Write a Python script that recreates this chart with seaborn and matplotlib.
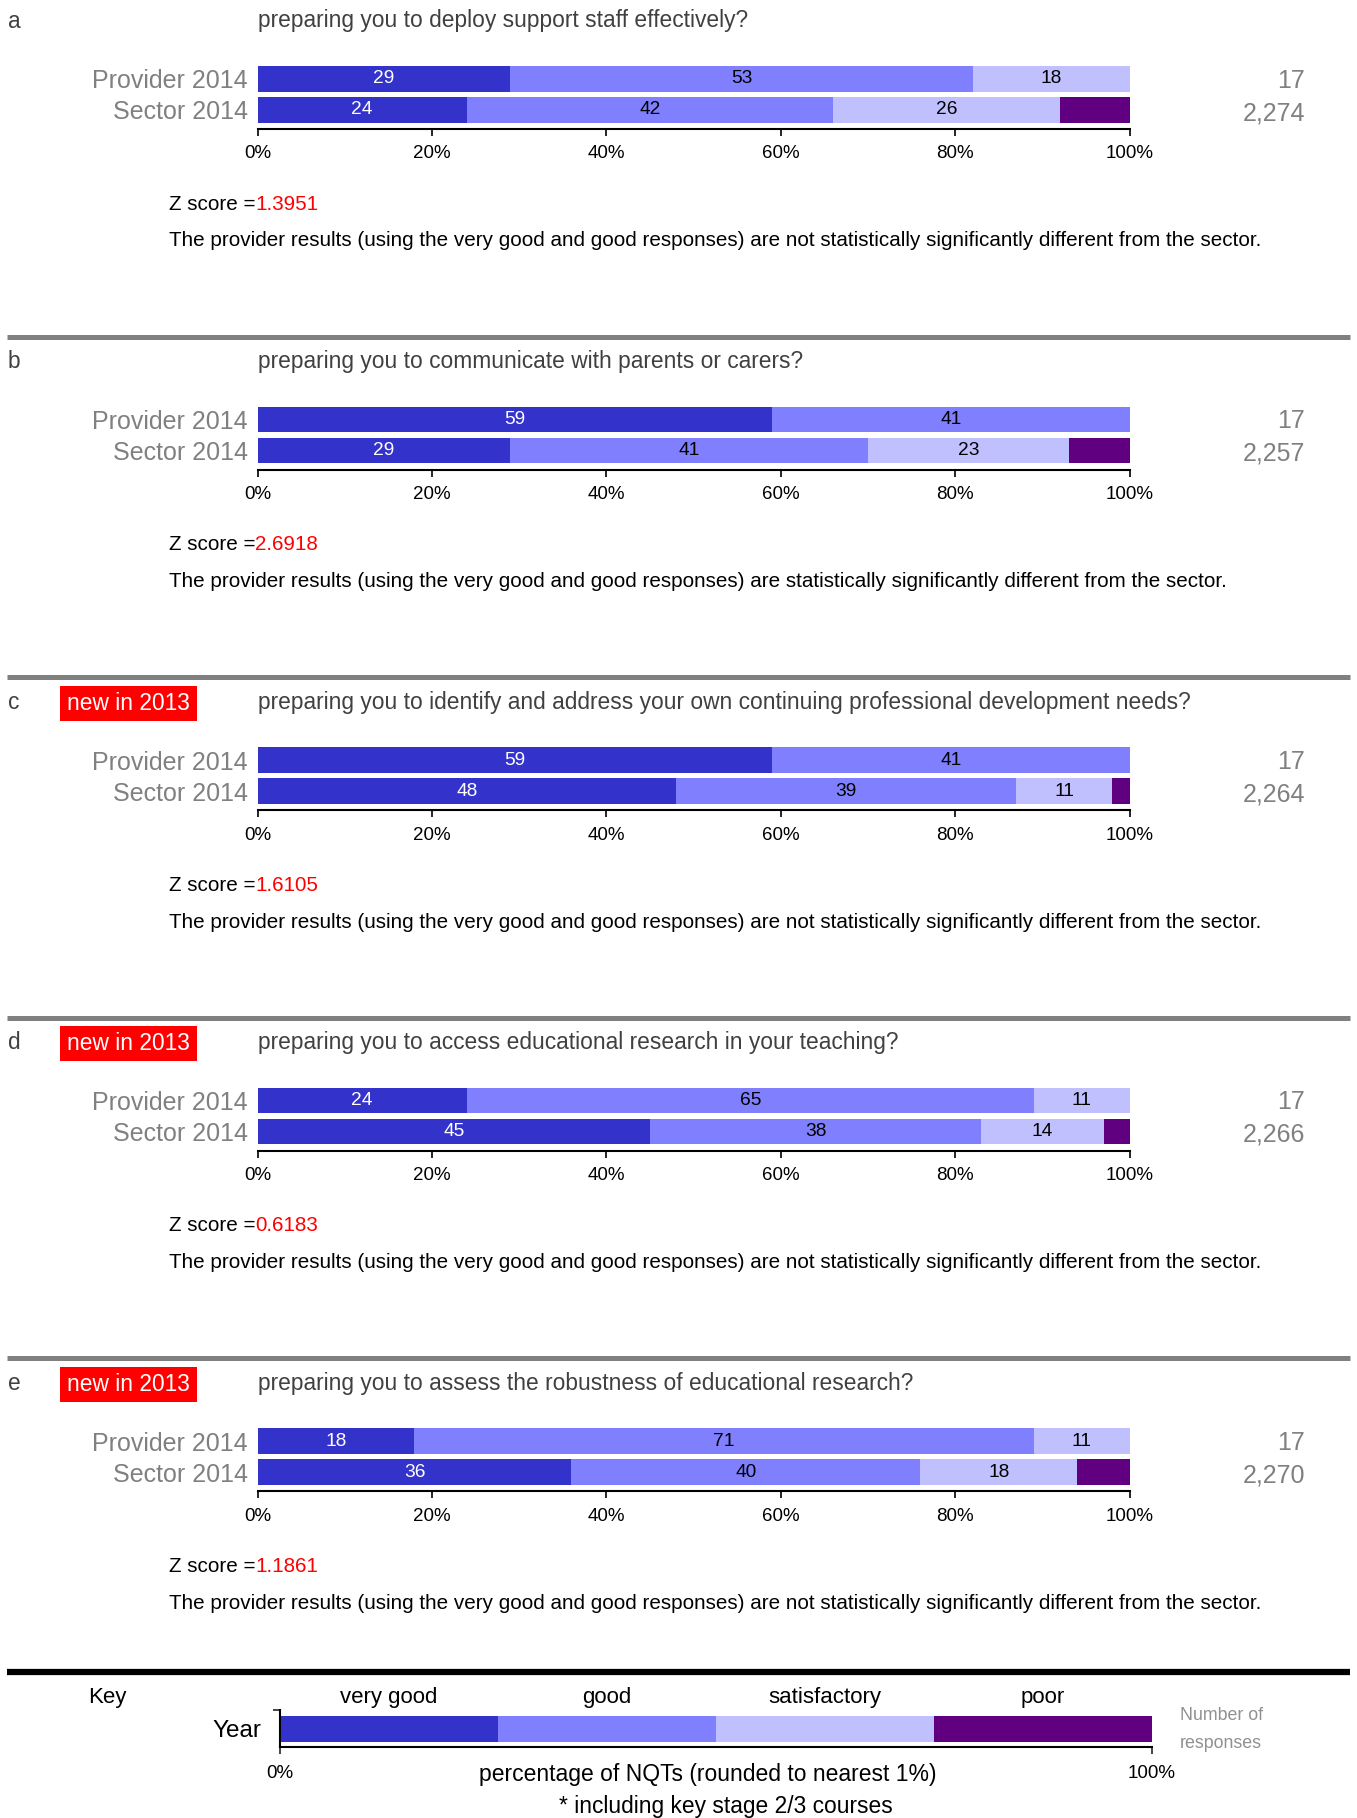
import matplotlib
matplotlib.use('Agg')
import matplotlib.pyplot as plt
import seaborn as sns
import pandas as pd

sns.set_style('white')
plt.rcParams['font.family'] = ['Liberation Sans', 'DejaVu Sans']

# ---------------- data ----------------
panel_letters = ['a', 'b', 'c', 'd', 'e']
questions = [
    'preparing you to deploy support staff effectively?',
    'preparing you to communicate with parents or carers?',
    'preparing you to identify and address your own continuing professional development needs?',
    'preparing you to access educational research in your teaching?',
    'preparing you to assess the robustness of educational research?',
]
new_flags = [False, False, True, True, True]
groups = ['Provider 2014', 'Sector 2014']
categories = ['very good', 'good', 'satisfactory', 'poor']
colors = ['#3333CC', '#8080FF', '#C0C0FF', '#600080']
provider_values = [[29, 53, 18, 0], [59, 41, 0, 0], [59, 41, 0, 0], [24, 65, 11, 0], [18, 71, 11, 0]]
sector_values = [[24, 42, 26, 8], [29, 41, 23, 7], [48, 39, 11, 2], [45, 38, 14, 3], [36, 40, 18, 6]]
provider_n = ['17', '17', '17', '17', '17']
sector_n = ['2,274', '2,257', '2,264', '2,266', '2,270']
z_scores = ['1.3951', '2.6918', '1.6105', '0.6183', '1.1861']
significant = [False, True, False, False, False]
pct_ticks = [0, 20, 40, 60, 80, 100]
key_values = [25, 25, 25, 25]

# ---------------- layout ----------------
W, H = 1357, 1818
fig = plt.figure(figsize=(W / 100, H / 100), dpi=100)

def fx(x):
    return x / W

def fy(y):
    return 1 - y / H

ax0 = fig.add_axes([0, 0, 1, 1])
ax0.set_xlim(0, W)
ax0.set_ylim(H, 0)
ax0.axis('off')
ax0.patch.set_alpha(0)

BAR_L, BAR_R = 257.5, 1129.7
PERIOD = 340.6


def stacked(ax, labels, rows, width):
    cols = {}
    for j in range(len(categories)):
        cols['cum%d' % j] = [sum(r[:j + 1]) for r in rows]
    df = pd.DataFrame({'group': labels, **cols})
    for j in reversed(range(len(categories))):
        sns.barplot(data=df, x='cum%d' % j, y='group', order=labels, color=colors[j],
                    saturation=1, width=width, errorbar=None, orient='h', ax=ax,
                    linewidth=0)
    ax.set_xlabel('')
    ax.set_ylabel('')


for i in range(5):
    off = i * PERIOD
    # letter and title
    ax0.text(8, 21 + off, panel_letters[i], fontsize=16.4, color='#404040', va='center', ha='left')
    ax0.text(BAR_L, 21 + off, questions[i], fontsize=16.4, color='#404040', va='center', ha='left')
    if new_flags[i]:
        ax0.add_patch(plt.Rectangle((60, 4.5 + off), 137, 35, color='#FF0000', lw=0))
        ax0.text(128.5, 22 + off, 'new in 2013', fontsize=16.4, color='white', va='center', ha='center')

    ax = fig.add_axes([fx(BAR_L), fy(129 + off), fx(BAR_R) - fx(BAR_L), (129 - 66) / H])
    rows = [provider_values[i], sector_values[i]]
    stacked(ax, groups, rows, 0.83)
    for gi, vals in enumerate(rows):
        start = 0
        for j, v in enumerate(vals):
            if v > 0 and j < 3:
                ax.text(start + v / 2, gi, str(v), ha='center', va='center',
                        color='white' if j == 0 else 'black', fontsize=13.8)
            start += v
    ax.set_xlim(0, 100)
    ax.set_ylim(1.62, -0.415)
    for s in ['left', 'top', 'right']:
        ax.spines[s].set_visible(False)
    ax.spines['bottom'].set_linewidth(1.5)
    ax.spines['bottom'].set_color('black')
    ax.set_xticks(pct_ticks)
    ax.set_xticklabels(['%d%%' % t for t in pct_ticks])
    ax.tick_params(axis='x', bottom=True, length=5, width=1.2, direction='out',
                   labelsize=13.5, pad=6.8, colors='black')
    ax.tick_params(axis='y', left=False, length=0, pad=7, labelsize=18, labelcolor='#808080')

    # response counts
    ax0.text(1305, 80.5 + off, provider_n[i], fontsize=18, color='#808080', ha='right', va='center')
    ax0.text(1305, 113 + off, sector_n[i], fontsize=18, color='#808080', ha='right', va='center')

    # z score
    t1 = ax0.text(169, 204 + off, 'Z score =', fontsize=14.9, color='black', ha='left', va='center')
    ax0.annotate(z_scores[i], xy=(1, 0), xycoords=t1, ha='left', va='bottom',
                 fontsize=14.9, color='#FF0000')
    body = ('The provider results (using the very good and good responses) are '
            + ('' if significant[i] else 'not ')
            + 'statistically significantly different from the sector.')
    ax0.text(169, 241 + off, body, fontsize=14.9, color='black', ha='left', va='center')

    if i < 4:
        ax0.plot([7, 1350], [336.5 + off] * 2, color='#808080', lw=3.6, solid_capstyle='butt')

# black separator before key
ax0.plot([7, 1350], [1672] * 2, color='black', lw=4.5, solid_capstyle='butt')

# ---------------- key ----------------
KEY_L, KEY_R = 279.5, 1151.5
kax = fig.add_axes([fx(KEY_L), fy(1747), fx(KEY_R) - fx(KEY_L), (1747 - 1710.5) / H])
stacked(kax, ['Year'], [key_values], 1.0)
kax.set_xlim(0, 100)
kax.set_ylim(0.69, -0.71)
for s in ['top', 'right']:
    kax.spines[s].set_visible(False)
for s in ['left', 'bottom']:
    kax.spines[s].set_linewidth(1.5)
    kax.spines[s].set_color('black')
kax.set_xticks([0, 100])
kax.set_xticklabels(['', ''])
kax.tick_params(axis='x', bottom=True, length=5, width=1.2, direction='out')
kax.set_yticks([])
kax.set_yticks([-0.71], minor=True)
kax.tick_params(axis='y', which='minor', left=True, length=5, width=1.2, direction='out')

ax0.text(107, 1698, 'Key', fontsize=16, color='black', ha='center', va='center')
seg = (KEY_R - KEY_L) / 4
for j, c in enumerate(categories):
    ax0.text(KEY_L + seg * (j + 0.5), 1698, c, fontsize=16, color='black', ha='center', va='center')
ax0.text(261, 1731, 'Year', fontsize=17.5, color='black', ha='right', va='center')
ax0.text(KEY_L, 1774, '0%', fontsize=13.5, color='black', ha='center', va='center')
ax0.text(KEY_R, 1774, '100%', fontsize=13.5, color='black', ha='center', va='center')
ax0.text(707.6, 1774, 'percentage of NQTs (rounded to nearest 1%)', fontsize=16.5, color='black',
         ha='center', va='center')
ax0.text(726, 1807, '* including key stage 2/3 courses', fontsize=16.35, color='black',
         ha='center', va='center')
ax0.text(1180, 1716, 'Number of', fontsize=12.8, color='#909090', ha='left', va='center')
ax0.text(1180, 1743, 'responses', fontsize=12.8, color='#909090', ha='left', va='center')

fig.savefig('out.png', dpi=100)
